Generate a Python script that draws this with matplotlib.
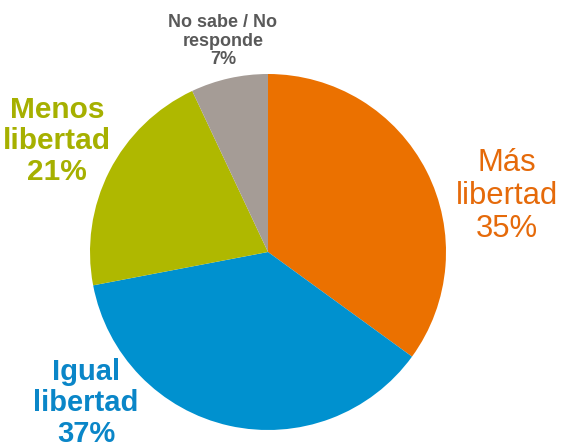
import matplotlib
matplotlib.use("Agg")
import matplotlib.pyplot as plt

labels = ["Más\nlibertad", "Igual\nlibertad", "Menos\nlibertad", "No sabe / No\nresponde"]
values = [35, 37, 21, 7]
colors = ["#EB7100", "#0091CF", "#AFB800", "#A59C96"]
text_colors = ["#E56A0A", "#0A86C8", "#A6B000", "#595959"]
bold = [False, True, True, True]
sizes = [22.3, 21.0, 21.5, 13.0]
label_pos = [(507, 196), (86, 403), (57, 141), (223, 41)]  # pixel coords (from top)

W, H = 564, 448
fig = plt.figure(figsize=(W / 100, H / 100), dpi=100)
ax = fig.add_axes([0, 0, 1, 1])

ax.pie(values, colors=colors, startangle=90, counterclock=False,
       center=(268, H - 252), radius=178, frame=True,
       wedgeprops=dict(linewidth=0))
ax.set_xlim(0, W)
ax.set_ylim(0, H)
ax.set_aspect("equal")
ax.axis("off")

for lab, v, tc, b, s, (x, y) in zip(labels, values, text_colors, bold, sizes, label_pos):
    ax.text(x, H - y, f"{lab}\n{v}%", color=tc, fontsize=s,
            fontweight="bold" if b else "normal", family="Liberation Sans",
            ha="center", va="center", linespacing=1.15, multialignment="center")

fig.savefig("out.png", dpi=100)
